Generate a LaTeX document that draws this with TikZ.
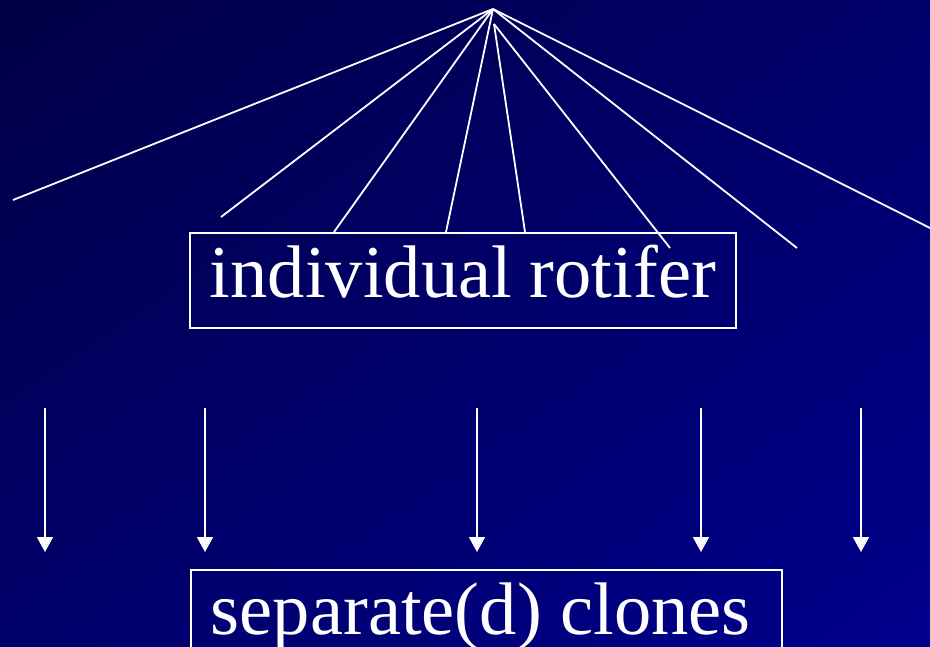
\documentclass[tikz,border=0pt]{standalone}
\usepackage{fontspec}
\setmainfont{Liberation Serif}
\usetikzlibrary{arrows.meta,shadings}

\definecolor{navytop}{RGB}{0,0,70}
\definecolor{navymid}{RGB}{0,0,106}
\definecolor{navybot}{RGB}{0,0,140}

\begin{document}
\begin{tikzpicture}[x=1pt, y=-1pt, >={Triangle[width=16pt,length=15pt]},
  fan/.style={white, line width=1.8pt},
  down/.style={white, line width=1.8pt, ->},
  tag/.style={draw=white, line width=1.8pt, text=white, anchor=base west,
    inner xsep=20pt, inner ysep=0pt, align=flush left,
    text height=64pt, text depth=31pt, font=\fontsize{74.5}{80}\selectfont}]
  % --- background ---
  \useasboundingbox (0,0) rectangle (930,646);
  \shade[upper left=navytop, upper right=navymid, lower left=navymid,
    lower right=navybot] (0,0) rectangle (930,646);

  % --- boxes ---
  \node[tag, text width=506pt] (rotifer) at (189,297) {individual rotifer};
  \node[tag, text width=551pt] (clones) at (190,634) {separate(d) clones};

  % --- fan of lines ---
  \coordinate (apex) at (493,9);
  \coordinate (knot) at (494,24);
  \foreach \x/\y [count=\i] in {13/200, 221/217, 334/232, 446/232, 797/248, 930/228} {
    \coordinate (leg\i) at (\x,\y);
    \draw[fan] (apex) -- (leg\i);
  }
  \foreach \x/\y [count=\i] in {525/232, 670/248} {
    \coordinate (twig\i) at (\x,\y);
    \draw[fan] (knot) -- (twig\i);
  }

  % --- arrows down ---
  \foreach \x [count=\i] in {45, 205, 477, 701, 861} {
    \coordinate (from\i) at (\x,408);
    \coordinate (to\i) at (\x,552);
    \draw[down] (from\i) -- (to\i);
  }
\end{tikzpicture}
\end{document}
